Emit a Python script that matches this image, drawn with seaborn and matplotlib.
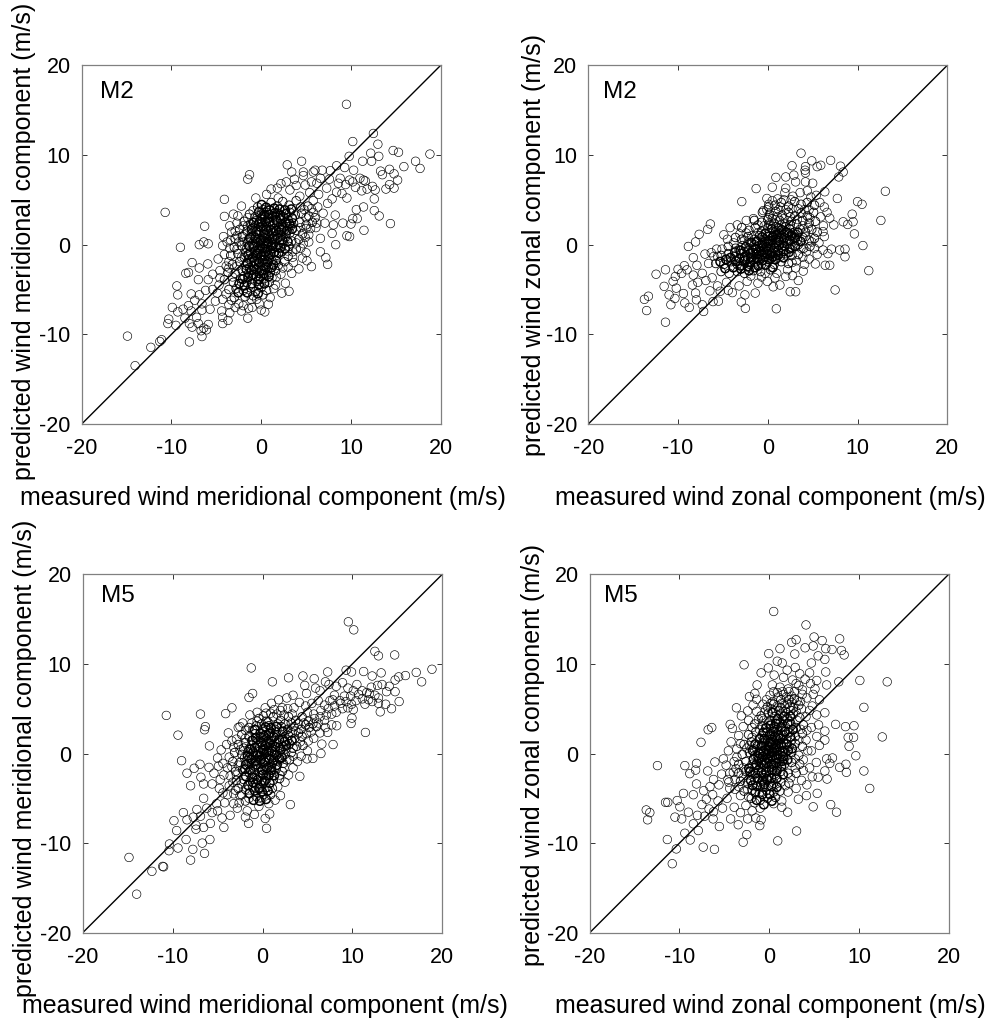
import matplotlib
matplotlib.use("Agg")
import matplotlib.pyplot as plt
import pandas as pd
import seaborn as sns

sns.set_style("white")
plt.rcParams["font.family"] = ["Liberation Sans", "DejaVu Sans"]
plt.rcParams["axes.unicode_minus"] = False

LIMITS = [-20, 20]
TICKS = [-20, -10, 0, 10, 20]
XLABELS = ["measured wind meridional component (m/s)", "measured wind zonal component (m/s)"]
YLABELS = ["predicted wind meridional component (m/s)", "predicted wind zonal component (m/s)"]
MODELS = ["M2", "M2", "M5", "M5"]

M2_MERID_OUTER = [(9.5,15.65),(12.5,12.4),(10.2,11.5),(13,11.2),(14.7,10.5),(15.3,10.3),(18.8,10.1),(17.2,9.3),(17.7,8.5),(15.9,8.7),(9.8,9.85),(12.2,10.2),(13.1,9.85),(11.3,9.3),(12.3,9.3),(2.9,8.9),(4.5,9.3),(3.4,8.1),(-1.3,7.8),(-1.5,7.3),(-10.7,3.6),(-4.1,5.05),(-4.1,3.15),(-6.3,2.05),(-6.4,.3),(-5.9,.1),(-6.9,0),(-9,-.3),(-7.7,-2),(-5.95,-2.15),(-8.4,-3.2),(-8.1,-3.1),(-6.9,-2.6),(-7,-3.9),(-9.4,-4.6),(-9.3,-5.6),(-7.8,-5.5),(-9.9,-7),(-9.3,-7.5),(-10.3,-8.3),(-10.4,-8.8),(-9.5,-9),(-14.9,-10.2),(-14.05,-13.5),(-12.3,-11.45),(-11.1,-10.6),(-11.3,-10.8),(-8,-10.85),(-6.6,-10.25),(-6.4,-9.3),(-5.9,-8.9),(-6.1,-9.5),(-1.5,-8.2),(-3.7,-8.45),(-4.3,-8.8),(.4,-7.5),(.8,-6.65),(3.1,-5.2),(5.6,-2.45),(7.4,-2.2),(7.2,-1.45),(8.3,0),(9.55,1),(9.85,.9),(11.45,1.6),(14.4,2.35),(13.15,3.2),(12.6,3.8),
(13.3,8.2),(13.5,7.8),(14.3,8.4),(14.8,7.9),(15.2,7.2),(14.3,6.7),(14.8,6.3),(13.9,6.2),(12.7,6.1),(12.6,5.1),(11.4,7.2),(11.6,7.1),(10.2,7),(9.85,7.2),(11,7.4),(10.3,8.3),(9.3,8.6),(8.4,8.8),(7.7,8.25),(6.8,8.3),(6,8.3),(5.8,8.1),(4.7,8.1),(4.7,7.7),(3.7,7.3),(2.2,6.8),(1.1,6.2),(1.8,6.3),(3.2,6.1),(4.9,6.65),(6.2,6.85),(7.3,6.3),(8.6,6.85),(8.4,5.85),(9.55,5.2),(11.4,4.2),(10.6,3.9),(10.7,2.9),(10.2,2.9),(10,2.3),(9.1,2.4),(8.25,3.3),(8.05,2.2),(7.1,2.4),(7.9,1.25),(6.6,.7),(6.6,-.8),(5.3,.3),(5,-.9),(11.8,6.2),(12.4,6.5),(11.2,6),(10.5,6.4),(9.4,6.7),(9,5.7),(7.9,5.1),(7.4,4.6),(8.8,7.4),(7.6,7.3),(6.6,7.4),(5.6,7),(6.4,5.6),(6.9,3.5),(5.8,4.9),(5.4,5.8),(4.3,5.4),(3.9,6.6),(2.8,7),(1.9,5.2),(.6,5.6),(-.6,5.2),(-2.2,4.3),(-2.6,3.2),(-3.1,3.4),(-3.5,2.1),(-3.3,1.4),(-4.2,.9),(-4.3,-.1),(-4.8,-1.6),(-4.6,-2.9),(-5.4,-3.3),(-5.9,-3.9),(-6.2,-5.1),(-6.9,-5.6),(-7.4,-6.2),(-8.1,-6.8),(-8.7,-7.2),(-7.8,-7.4),(-7.2,-8.1),(-6.6,-7.3),(-7,-8.8),(-7.7,-9.2),(-6.7,-9.6),(-5.7,-7.2),(-5.1,-6.3),(-4.4,-7.4),(-4.3,-8.1),(-3.5,-7.6),(-3.3,-6.2),(-2.5,-6.6),(-2,-6.8),(-1.1,-6.1),(-1.4,-7.1),(-.2,-6.6),(0,-7.3),(1,-5.9),(2.3,-5.4),(2.7,-4.3),(1.6,-4.5),(3.4,-3.2),(4.2,-2.7),(4.6,-1.5),(5.1,-1.8),(3.6,-2),(-6.6,-6.6),(-5.4,-5),(-4.7,-4.5),(-3.9,-5.5),(-8.5,-8.2),(-8,-8.8),
(-3.2,-3.6),(-3.6,-2.6),(-2.7,-2.4),(-2.2,-1.4),(-2.7,-.5),(-3.5,-.4),(-2.5,.3),(-3.4,.5),(-1.9,.3),(-1.9,1.1),(-2,2.1),(-2.7,2.4),(-1.5,3),(-.9,3.8),(-1.5,2.1),(2.9,-.7),(3.5,-.8),(4.4,-.4),(4.7,.1),(3.9,.2),(4.9,.8),(5.3,1.1),(4.4,1.9),(5,1.8),(5.5,1.8),(6.1,1.9),(5.8,3.6),(6.2,2.4),(5,3),(4.8,3.9),(5.6,4),(6.3,4.2),(3.5,-1.4),(2.4,-2.6),(2.2,-3.3),(3,-2.5),(1.2,-3.7),(1.7,-3.6),(1.4,-4.9),(-4.9,-5.4),(-4.3,-6.1),(-3.6,-6.7),(-2.9,-7),(-2.2,-7.4),(-1,-7),(-.5,-6.1),(-4.6,-3.7),(-3.9,-2.4),(-4.1,-1.1),(-3.6,-1.9),(-3.8,.3),(-2.9,1.5),(-2.7,1)]
M2_MERID_CORE = [(-.4,4.2),(.2,3.9),(1.1,4.7),(1.8,4.3),(2.4,4.8),(3.1,4.4),(3.9,4.9),(4.4,4.2),(5.2,4.3),(-1.3,3.4),(-.7,3.1),(0,3.3),(.6,3.6),(1.2,3.2),(1.9,3.5),(2.5,3.1),(3.2,3.6),(3.8,3.3),(4.5,3.5),(5.3,3.2),(6,3),(-1.9,2.6),(-1.2,2.3),(-.5,2.7),(.1,2.4),(.7,2.8),(1.3,2.3),(1.8,2.6),(2.4,2.2),(3,2.7),(3.6,2.4),(4.3,2.5),(5,2.2),(5.7,2.5),(-2.4,1.7),(-1.6,1.5),(-.9,1.9),(-.3,1.6),(.3,1.9),(.8,1.5),(1.4,1.8),(2,1.4),(2.6,1.7),(3.2,1.3),(3.9,1.6),(4.6,1.2),(-2.9,.7),(-2.1,.9),(-1.4,.6),(-.8,1),(-.2,.7),(.4,1.1),(.9,.6),(1.5,.9),(2.1,.5),(2.7,.8),(3.4,.4),(4.2,.6),(-3,-.3),(-2.2,-.1),(-1.6,-.4),(-1,.1),(-.4,-.3),(.2,.1),(.7,-.2),(1.3,.2),(1.9,-.3),(2.4,.1),(3.1,-.2),(3.9,-.5),(-3.4,-1.2),(-2.6,-1),(-1.9,-1.4),(-1.2,-.9),(-.6,-1.2),(0,-.8),(.5,-1.3),(1.1,-.9),(1.7,-1.2),(2.3,-.8),(3,-1.3),(-3.2,-2.2),(-2.4,-1.9),(-1.7,-2.3),(-1.1,-1.9),(-.5,-2.2),(.1,-1.8),(.6,-2.2),(1.2,-1.8),(1.9,-2.3),(2.6,-1.9),(-3.7,-3.1),(-2.9,-3.2),(-2.1,-2.9),(-1.4,-3.2),(-.8,-2.8),(-.2,-3.2),(.4,-2.8),(1,-3.1),(1.6,-2.9),(-4.1,-3.9),(-3.1,-4.2),(-2.3,-3.8),(-1.6,-4.2),(-1,-3.8),(-.4,-4.1),(.3,-3.8),(.9,-4.2),(-3.6,-5),(-2.8,-4.9),(-2,-5.1),(-1.2,-4.8),(-.6,-5.2),(0,-4.8),(.6,-5.1),(-3,-5.9),(-1.8,-5.8),(-.9,-5.7),(.2,-5.6),(.5,.4),(.1,.6),(-.3,.2),(.8,1),(1.2,1.3),(.3,1.4),(-.2,1.1),(.6,2),(1,2.1),(1.5,2.4),(2,2),(.2,2.1),(-.6,.3),(-.1,-.1),(.4,-.5),(-.7,-.7),(-.2,-1.5),(.3,-1.1),(.7,-.7),(-.4,-1.7),(-.9,-2.4),(-.3,-2.5),(.2,-2.4),(-1.1,-3.4),(-.6,-3.5),(-.1,-3.6),(.4,-3.3),(1.1,.2),(1.6,.6),(2.2,1.1),(2.8,1.2),(1.8,1.1),(2.4,1.9),(2.9,2),(3.3,2.1),(-.1,2.9),(.4,3.1),(.9,3),(1.6,3),(-.7,2.1),(-1.1,1.2),(-1.5,.2),(-1.7,-.9),(-1.4,-1.6),(-1.3,-2.6),(-1.9,-3.5),(.9,-1.6),(.8,-2.6),(.6,-3.4),(1.4,-.4),(1,-.6),(.1,3.1),(-.3,2.3)]
M2_MERID_DENSE = [(.05,4.45),(.55,4.15),(.95,3.85),(1.45,4.05),(2.05,3.95),(2.65,3.85),(3.35,3.95),(-.25,3.65),(.35,3.35),(.85,3.35),(1.55,3.55),(2.15,3.25),(2.75,3.45),(3.45,2.95),(-.85,2.45),(-.15,2.55),(.45,2.55),(.95,2.55),(1.65,2.75),(2.15,2.85),(2.75,2.45),(3.15,2.35),(-1.05,1.75),(-.55,1.45),(-.05,1.95),(.55,1.65),(1.05,1.65),(1.65,1.55),(2.25,1.65),(2.85,1.55),(3.45,1.75),(-1.25,.75),(-.65,.75),(-.05,.45),(.35,.75),(.75,.35),(1.25,.65),(1.85,.75),(2.35,.55),(2.95,.35),(-1.35,-.15),(-.85,-.25),(-.25,-.55),(.15,-.35),(.65,.15),(1.15,-.15),(1.65,-.25),(2.15,-.35),(2.65,-.45),(-1.45,-1.15),(-.95,-1.45),(-.45,-.95),(.05,-1.25),(.45,-.85),(.85,-1.25),(1.45,-.85),(1.95,-.95),(-1.55,-2.05),(-.75,-1.85),(-.25,-1.95),(.35,-1.65),(.75,-1.95),(1.35,-2.25),(1.65,-1.75),(-1.65,-2.75),(-1.05,-2.85),(-.55,-2.75),(.05,-2.85),(.55,-2.55),(1.15,-2.55),(-2.05,-3.85),(-1.45,-3.65),(-.85,-3.35),(-.25,-3.85),(.25,-3.25),(.85,-3.55),(-2.45,-4.35),(-1.85,-4.55),(-1.05,-4.35),(-.25,-4.45),(.35,-4.35),(-2.55,-5.35),(-1.55,-5.35),(-.35,-5.45)]

M2_ZONAL_OUTER = [(3.7,10.2),(4.9,9.35),(7,9.4),(2.7,8.8),(4.2,8.7),(4.15,8.3),(5.5,8.7),(5.9,8.85),(8.1,8.75),(8.4,8.1),(7.9,7.55),(4.2,8),(2.9,7.75),(2,7.55),(.9,7.5),(3.1,7),(4.2,7),(5,6.85),(-1.3,6.25),(.5,6.4),(2,6.3),(-2.9,4.8),(-.1,5.15),(6.35,5.9),(13.1,5.95),(7.75,5.15),(10,4.8),(10.5,4.5),(9.4,3.4),(12.6,2.7),(8.4,2.55),(9.5,2.55),(8.9,2.25),(9.65,1.2),(10.6,-.1),(8.6,-1.35),(8.6,-.5),(8,-.6),(11.25,-2.9),(7.5,-5.05),(6.4,-2.3),(6.9,-2.3),(5.3,-2.15),(6.7,-1),(7.1,-.5),(6.15,-.6),(6.9,2.95),(7.35,2.2),(6.3,.9),(6.15,1.45),(-6.4,2.3),(-6.7,1.7),(-7.65,1.15),(-8.05,.3),(-8.85,-.2),(-7,-1.05),(-8.3,-1.45),(-9.3,-2.35),(-10,-2.75),(-11.4,-2.8),(-12.45,-3.3),(-10.3,-3.55),(-10.55,-4.1),(-11.55,-4.65),(-10.2,-4.85),(-11,-5.6),(-13.3,-5.75),(-13.75,-6.1),(-13.5,-7.35),(-11.4,-8.65),(-10.8,-6.7),(-10.35,-6),(-9.4,-5.45),(-8.05,-5.4),(-9.25,-6.5),(-8.75,-7),(-7.95,-6.15),(-7.3,-6.7),(-7.15,-7.45),(-6.45,-5.15),(-5.5,-6.3),(-6.1,-6.35),(-8.4,-4.5),(-8.3,-3.4),(-3.95,-5.35),(-2.55,-5.6),(-2.95,-6.4),(-2.5,-7.1),(-1.4,-5.4),(.95,-7.15),(2.5,-5.25),(3.1,-5.25),(1.35,-4.5),(.6,-4.7),(3.4,-4),(2.75,-3.45),(3.95,-2.95),(2,-3.55),(-.05,-4.1),(-1.1,-4.3),(-3.2,-4.6),(-9.6,-3.2),(-9,-2.8),(-7.9,-2.3),(-7.3,-3.2),(-6.9,-4),(-7.8,-4.2),(-6.2,-3.7),(-5.6,-4.6),(-4.6,-4.2),(-4.4,-5.1),(-5.3,-5.2),(-6.6,-2.1),(-6,-1.3),(-6.3,-.9),(-5.7,-.5),(-4.9,1.1),(-4.2,1.9),(-3.4,2.2),(-2.4,2.7),(-1.6,2.9),(-.5,3.8),(.1,4.5),(1.1,5.1),(1.9,5.8),(2.8,5.4),(3.6,5.8),(4.4,6),(4.8,5.3),(5.4,5.5),(5.8,4.7),(6.3,4.2),(6.6,3.6),(5.9,3.1),(6.2,2.1),(5.7,.2),(5.2,-.4),(5.5,-1.1),(4.6,-1.6),(4.1,-2.2),(3.1,-2.6),(2.2,-2.8),(1,-3.2),(-.3,-3.2),(-1.9,-3.5),(-2.3,-4.1),(-.7,-3.6),(.8,-3.7),
(-2.2,.2),(-2.6,.5),(-1.8,1),(-1.1,1.3),(-2.4,1.3),(-3.1,1.2),(-3.8,.2),(-1.1,2.2),(-.4,2.1),(.1,2.3),(.5,2.9),(1.1,3.1),(1.8,2.9),(2.5,3.1),(3.3,2.8),(3.9,2.1),(4.5,1.9),(4.2,.9),(3.7,-.4),(4.3,-.8),(4.9,.3),(3.9,-1.4),(3.2,-1.8),(2.7,-2),(-4.5,.6),(-5.1,-.5),(-5.6,-1.3),(1.2,3.9),(2,3.9),(2.7,4),(3.4,4),(4.1,3.9),(4.7,3),(.6,3.2),(.1,3),(1.4,4.2),(2.6,5),(1.8,5),(.5,4.9),(-.1,3.9),(4.6,3.9)]
M2_ZONAL_CORE = [(.1,4.2),(.8,4.4),(1.5,4.7),(2.3,4.3),(3,4.8),(3.7,4.5),(4.4,4.7),(5.2,4.4),(-.6,3.6),(.2,3.4),(.9,3.7),(1.6,3.3),(2.3,3.6),(3,3.2),(3.7,3.5),(4.4,3.2),(5.1,3.6),(-1.5,2.7),(-.7,2.5),(0,2.8),(.7,2.4),(1.3,2.7),(1.9,2.3),(2.6,2.6),(3.2,2.3),(3.9,2.7),(4.6,2.4),(5.3,2.6),(-2.9,1.9),(-2.1,1.6),(-1.4,1.9),(-.7,1.5),(0,1.8),(.6,1.5),(1.2,1.9),(1.8,1.5),(2.4,1.8),(3,1.4),(3.6,1.7),(4.2,1.4),(4.9,1.7),(5.5,1.4),(-3.6,.8),(-2.9,.6),(-2.2,.9),(-1.5,.6),(-.9,1),(-.3,.6),(.3,1),(.9,.6),(1.5,1),(2.1,.6),(2.7,.9),(3.3,.5),(3.9,.8),(4.6,.5),(5.2,.7),(-4.4,-.2),(-3.6,-.4),(-2.8,-.1),(-2.1,-.4),(-1.5,0),(-.9,-.4),(-.3,.1),(.3,-.3),(.9,.1),(1.5,-.3),(2.1,.1),(2.7,-.3),(3.4,0),(4,-.4),(4.7,-.2),(-5.2,-1.2),(-4.4,-1),(-3.7,-1.3),(-3,-1),(-2.3,-1.3),(-1.6,-.9),(-1,-1.3),(-.4,-.9),(.2,-1.2),(.8,-.9),(1.4,-1.3),(2,-1),(2.7,-1.2),(3.4,-1.1),(-5.8,-2.1),(-4.9,-2.2),(-4.1,-1.9),(-3.4,-2.2),(-2.7,-1.9),(-2,-2.2),(-1.3,-1.9),(-.7,-2.2),(0,-1.9),(.7,-2.2),(1.5,-1.9),(2.3,-2.1),(-5.2,-3),(-4.3,-3.2),(-3.4,-3),(-2.6,-3.2),(-1.6,-2.9),(-.8,-3),(.3,-2.8),(-.1,.3),(.5,.4),(1,.3),(-.5,-.3),(.1,-.6),(.6,-.7),(1.2,.7),(.6,1),(0,.9),(1.7,.3),(2.2,.4),(-.6,.2),(-1.2,-.2),(-1.7,-.6),(-1,-.7),(-.4,-.6),(-2.2,-.7),(-2.6,-.8),(1.3,1.2),(1.8,1.1),(2.3,1.2),(.2,1.3),(.8,1.3),(2.8,1.3),(3.2,1.1),(-.3,-1.4),(-.9,-1.7),(-1.6,-1.6),(.4,-1.5),(1,-1.5),(.9,2),(1.5,2.2),(2,2),(.3,2.2),(2.5,2.2),(-3.2,-.6),(-1.1,.4),(-.2,.5),(.3,.1)]
M2_ZONAL_DENSE = [(-.25,1.25),(.45,1.75),(1.05,1.15),(1.55,1.65),(2.15,1.35),(2.65,1.05),(3.35,1.35),(-.65,.85),(.05,.15),(.55,.85),(1.25,.45),(1.85,.75),(2.45,.45),(3.05,.75),(3.65,.35),(-1.25,.35),(-.65,-.05),(.15,.45),(.75,-.35),(1.25,-.05),(1.85,-.15),(2.45,-.45),(3.05,-.15),(-1.85,.25),(-1.35,-.45),(-.75,-.75),(-.15,-.25),(.45,-.95),(1.15,-.65),(1.75,-.75),(2.35,-.85),(-2.45,-.25),(-1.95,-.95),(-1.25,-1.05),(-.65,-1.15),(-.05,-1.05),(.55,-1.35),(1.15,-1.15),(1.75,-1.45),(-3.05,-.65),(-2.55,-1.35),(-1.85,-1.45),(-1.15,-1.55),(-.55,-1.75),(.15,-1.65),(.85,-1.65),(-3.65,-.85),(-3.15,-1.55),(-2.55,-1.75),(-1.95,-1.95),(-1.05,-2.35),(-.25,-2.25),(.55,-2.55),(-4.15,-1.45),(-3.55,-1.85),(-3.05,-2.35),(-2.25,-2.45),(-1.45,-2.55),(-4.65,-1.65),(-3.85,-2.55),(-3,-2.7),(-2.1,-2.9),(-4.75,-2.65),(-5.3,-1.9)]

M5_MERID_OUTER = [(9.55,14.7),(10.15,13.8),(12.5,11.4),(12.9,10.9),(14.7,11),(18.85,9.4),(17.1,9.05),(17.7,8),(15.9,8.7),(15.15,8.55),(14.75,8.2),(13.2,9),(12.2,8.65),(11.25,9.15),(9.9,9.1),(9.3,9.3),(7.25,9.1),(4.5,8.65),(5.75,8.35),(2.9,8.45),(1.1,8),(-1.25,9.55),(4.7,7.6),(-1.1,6.7),(-1.5,6.25),(-3.4,5.1),(-4.1,4.45),(-6.9,4.4),(-10.7,4.25),(-6.35,3),(-6.45,2.65),(-9.4,2.05),(-5.9,.85),(-9,-.8),(-6.95,-1.2),(-7.6,-1.65),(-8.4,-2.2),(-5.95,-1.55),(-6.85,-2.65),(-6.55,-3.4),(-8,-3.6),(-6.55,-5),(-7.3,-6.25),(-8.8,-6.6),(-9.85,-7.5),(-9.55,-8.6),(-8.4,-7.4),(-7.4,-8.45),(-6.55,-8.25),(-5.8,-7.8),(-8.5,-9.6),(-5.85,-9.6),(-6.7,-10),(-10.35,-10.1),(-9.4,-10.55),(-10.4,-10.85),(-7.75,-10.7),(-6.45,-11.15),(-8,-11.9),(-14.85,-11.6),(-12.3,-13.15),(-11.1,-12.6),(-11,-12.65),(-14,-15.7),(-4.3,-8.25),(-1.55,-7.8),(.45,-8.35),(.3,-7.25),(.8,-6.75),(3.1,-5.7),(2,-4.7),(4.15,-2.55),(6.5,0),(7.85,1),(11.45,2.35),(13.1,4.65),(14.35,5),(15.2,5.8),(14.75,6.9),(9.85,3.35),(9.95,3.95),(8.25,3.1),(7.25,2.35),(6.6,1.05),(5.6,-.55),(4.95,-.6),
(13.3,7.7),(13.8,6.9),(14.1,7.5),(12.8,7.6),(12.1,7.4),(11.6,6.8),(11.1,7),(10.5,7.7),(10.1,7),(9.5,7.3),(8.9,7.9),(8.2,7.5),(7.4,7.7),(7,8),(6.4,7),(5.9,7.3),(4.9,6.7),(3.4,6.5),(2.7,6.2),(1.8,6),(1,5.6),(.3,5.1),(-.6,4.6),(-1.4,4.3),(-2.2,3.4),(-2.7,2.9),(-3.8,2.3),(-4,1),(-4.6,.4),(-5,-.5),(-4.9,-1.4),(-5.4,-2.2),(-5.6,-3.4),(-4.7,-2.9),(-4.4,-4.4),(-5.1,-5.6),(-4.2,-5.5),(-3.2,-5.6),(-2.8,-6.1),(-1.7,-6.4),(-1.9,-7.1),(-.9,-6.8),(-3.6,-6.9),(-4.5,-7.2),(-5.6,-6.6),(-6.9,-7),(-7.7,-7.1),(-7.4,-8),(-6.2,-6.1),(-5,-6.4),(12.9,6.2),(12.5,6.5),(11.8,6),(11.1,6.1),(10.4,5.9),(9.8,6.4),(9.1,6.4),(8.6,5.9),(8,6.5),(7.5,5.9),(6.9,5.4),(6.2,5.9),(5.5,5.6),(4.8,5.3),(4.1,5.7),(3.5,5.1),(2.8,5),(2,4.8),(12.9,5.6),(13.7,5.5),(10.1,4.9),(9.5,5.1),(8.9,5),(8.2,4.6),(7.7,4.4),(7.1,4.3),(6.4,4.1),(5.8,3.9),(7.7,3.2),(7,2.9),(6.4,2.3),(5.7,1.7),(5.1,1.4),(5,.3),(4.3,-.3),(3.9,-.9),(3.4,-1.6),(2.9,-2.4),(2.5,-3.2),(1.7,-3.7),(1.4,-5.2),(.7,-5.6),(-.4,-5.9),(-.1,-4.9),(-1.5,-5),(-2.5,-4.7),(-3.2,-4.5),(-3.7,-3.6),(-3.6,-2.5),(-3.9,-1.6),
(-2.3,-3.4),(-2.9,-2.4),(-3.4,-1.5),(-2.7,-1.3),(-3.7,-.4),(-3.2,.7),(-2.5,.4),(-2.9,1.6),(-1.9,1.7),(-1.9,2.6),(-1.1,2.6),(-1.2,3.4),(-.6,3.6),(.1,4.2),(.9,4.5),(1.6,4.4),(2.4,4.3),(3.3,4.4),(4,3.3),(4.6,3.4),(3.7,2.5),(2.6,2.6),(4.2,1.3),(3.4,-.3),(2.7,-.7),(2.4,-1.6),(1.9,-2.4),(-3.3,-3.2),(-3,-4.1),(-2.3,-4.6),(-3.9,-4.6),(-2.6,-5.5),(-4.8,-3.9),(-4.3,-2.4),(-4.4,-1.1),(-3.4,1.4),(-2.5,3),(4.9,2.2),(5.4,2.4),(5,4.6),(5.7,4.4),(6.5,4.8),(7.3,5),(8,5.3),(8.7,5.6),(9.3,5.8),(7.8,6),(9.9,5.5),(10.7,6.6),(11.4,5.5),(12.2,5.8),(11.9,6.7),(6.9,3.7),(6.2,3.4),(2.2,5.1),(1.3,4.9),(.4,4.5)]
M5_MERID_CORE = [(-.4,3.9),(.4,3.6),(1.2,4.1),(2,3.7),(2.9,4.1),(3.7,3.7),(4.4,4.1),(5.1,3.6),(-1.5,2.9),(-.7,3.1),(0,2.7),(.7,3.1),(1.4,2.7),(2.1,3),(2.8,2.7),(3.5,3),(4.3,2.7),(5.2,2.9),(-2.3,2.1),(-1.5,1.9),(-.8,2.2),(-.2,1.8),(.4,2.1),(1,1.8),(1.6,2.1),(2.2,1.7),(2.9,2),(3.6,1.7),(4.4,1.9),(-2.7,1),(-1.9,1.2),(-1.2,.9),(-.6,1.2),(0,.9),(.5,1.3),(1.1,.9),(1.7,1.2),(2.3,.8),(3,1.1),(3.8,.8),(4.5,.9),(-3.1,.1),(-2.3,-.1),(-1.6,.2),(-1,-.2),(-.4,.2),(.2,-.1),(.7,.2),(1.3,-.2),(1.9,.2),(2.5,-.1),(3.2,.1),(-3.3,-.9),(-2.5,-1),(-1.8,-.8),(-1.2,-1.1),(-.6,-.8),(0,-1.1),(.5,-.8),(1.1,-1.1),(1.7,-.8),(2.3,-1.1),(3,-.7),(-3,-2),(-2.2,-1.8),(-1.5,-2.1),(-.9,-1.8),(-.3,-2.1),(.3,-1.8),(.9,-2.1),(1.5,-1.8),(2.2,-2),(-2.9,-3),(-2.1,-2.9),(-1.4,-3.1),(-.7,-2.8),(-.1,-3.1),(.5,-2.8),(1.2,-3),(1.9,-2.8),(-2.7,-3.9),(-1.9,-4),(-1.1,-3.8),(-.4,-4),(.4,-3.8),(1.1,-3.9),(-.7,-4.8),(.1,-4.6),(.9,-4.6),(-1.9,-5.3),(.2,.5),(.7,.7),(-.3,.7),(-.1,.1),(.4,-.4),(-.4,-.4),(.9,-.3),(.1,1.4),(.7,1.5),(1.3,1.4),(-.5,1.6),(.2,2.5),(.9,2.4),(1.5,2.4),(-.2,-1.5),(.4,-1.4),(-.8,-1.4),(-.2,-2.5),(.4,-2.4),(-.9,-2.4),(1,-1.5),(-1.4,-.4),(-1.5,.5),(1.4,.4),(1.9,.7),(-.1,3.3),(.6,3.5),(1.7,3.3),(2.5,3.3),(3.2,3.4),(-.2,-3.5),(.1,-3.3),(-.8,-3.4),(-1.6,-1.5),(-2,-.5),(-2.1,.6),(2.6,.5),(3.4,.6),(2.8,1.5),(3.3,2.3),(4,2.3),(4.8,3.2),(5.6,3.3),(6,3)]
M5_MERID_DENSE = [(-.85,2.65),(-.25,2.25),(.35,2.95),(.95,2.85),(1.55,3),(2.25,2.45),(-1.15,1.45),(-.75,1.75),(.15,1.95),(.75,2.25),(1.25,1.85),(1.85,1.55),(2.45,1.35),(3.25,1.45),(-1.35,.45),(-.85,.65),(-.15,1.25),(.35,.85),(.85,1.15),(1.45,.75),(2.05,.45),(2.65,.95),(-1.65,-.25),(-1.05,.15),(-.55,-.15),(.05,.35),(.45,.15),(1.05,.25),(1.55,-.15),(2.15,-.45),(-1.85,-1.25),(-1.25,-.65),(-.75,-.85),(-.2,-.7),(.25,-.95),(.75,-.55),(1.25,-.75),(1.9,-.6),(-1.95,-1.75),(-1.35,-1.85),(-.65,-1.25),(-.05,-1.85),(.5,-1.6),(1,-1.85),(1.6,-1.3),(-1.85,-2.55),(-1.15,-2.65),(-.55,-2.95),(.05,-2.35),(.7,-2.45),(1.3,-2.45),(-1.6,-3.55),(-1.05,-3.25),(-.35,-3.85),(.25,-3.05),(.8,-3.3),(-1.45,-4.45),(-.85,-4.15),(-.05,-4.25),(.6,-4.15),(-1,-5.2),(-.3,-5.3),(.4,-5.1)]

M5_ZONAL_OUTER = [(.5,15.85),(4.1,14.35),(5,13),(7.85,12.8),(5.9,12.6),(3,12.7),(2.5,12.4),(6.3,11.7),(7,11.6),(8.05,11.5),(8.35,11),(-.05,11.15),(1.2,11.7),(-2.8,9.9),(.9,10.3),(1.45,10.1),(2.85,11.1),(4,11.8),(4.9,12),(5.45,10.9),(6.2,10.5),(4.7,10.1),(-.1,9.55),(-.9,9),(2,9.3),(.55,8.75),(6.3,9.1),(4.5,9),(5.3,8.15),(10.1,8.15),(13.15,8),(7.75,8),(6.4,7.65),(-1.35,7.65),(-1.6,6.7),(-2.2,6.35),(-1.4,6.05),(.35,7.65),(3,7.8),(10.55,5.15),(-3.65,5.1),(-2.4,4.75),(-1.8,5.4),(-3.1,4.2),(-4.35,3.25),(-4.1,2.8),(-6.4,2.9),(-6.8,2.65),(-7.6,1.25),(-4.25,1.3),(-4.55,.3),(-5.1,-.6),(-6.05,-.95),(-8.1,-1.1),(-9.4,-1.35),(-12.45,-1.35),(-8.2,-1.85),(-8.85,-2.25),(-6.85,-1.95),(-8.1,-3.4),(-9.55,-4.45),(-8.45,-4.6),(-7.3,-4.15),(-11.55,-5.45),(-11.3,-5.45),(-10.25,-5.25),(-9.95,-5.95),(-13.7,-6.3),(-13.3,-6.6),(-13.55,-7.4),(-10.5,-7.1),(-9,-6.55),(-9.75,-7.3),(-8.45,-7.85),(-9.4,-8.9),(-7.9,-8.6),(-11.35,-9.6),(-8.8,-9.65),(-10.35,-10.65),(-10.8,-12.3),(-7.35,-10.45),(-6.1,-10.7),(-5.55,-8.15),(-6.25,-7.3),(-4.3,-7.3),(-3.45,-7.95),(-2.5,-9.05),(-2.9,-9.9),(.95,-9.75),(3.05,-8.65),(-1.05,-8.05),(2.05,-6.55),(4.9,-5.95),(6.85,-5.7),(7.5,-6.55),(5.35,-4.45),(3.25,-5.1),(4.15,-4.7),(1.4,-6),(11.2,-3.9),(10.55,-1.95),(8.6,-2.1),(8.55,-1.2),(7.85,-1.55),(9.65,-.25),(7.05,-.5),(6.4,-.6),(6.75,-1.1),(6.2,-1.95),(6.45,-2.85),(5.25,-1),(5.45,-2.65),(8.9,.8),(12.6,1.85),(9.4,1.8),(8.8,1.8),(8.5,3),(9.45,3.1),(7.4,3.25),(6.2,2.5),(6.2,1.5),(6.2,4.55),(4.7,2.9),(4.7,.3),
(5.1,7.2),(4.6,7.8),(4,8.3),(3.4,8.9),(2.9,9.6),(1.6,8.5),(1.2,7.4),(2.1,7.2),(3.7,7.1),(4.9,6.6),(5.6,6),(4.2,6.2),(.1,6.5),(-.7,5.5),(.4,5.8),(1,6.3),(4.8,5.3),(5.3,4.3),(5.5,3.2),(5.3,1.9),(5.6,.9),(-4.8,-1.3),(-5.3,-2.3),(-4.6,-2.9),(-5.6,-3.5),(-6.2,-2.9),(-6.6,-3.7),(-7,-5.1),(-6.3,-4.6),(-5.7,-5.3),(-7.5,-5.7),(-6.7,-6.2),(-8,-6.9),(-7.2,-7),(-6.2,-6.5),(-5.2,-6.1),(-4.7,-5),(-3.9,-6),(-3.2,-6.6),(-2.4,-7.3),(-1.5,-7.2),(-.9,-7.4),(-1.9,-6.4),(-1,-6.1),(-1.6,-5.5),(1.4,-5.3),(.5,-5.6),(2.1,-4.3),(3,-3.9),(4.2,-3.5),(3.6,-3),(4.8,-2.6),(3.8,-1.9),(4.5,-1.6),(-3.2,-4.7),(-2.6,-5.8),(-3.8,-4),(-4.4,-3.9),(-4,-2.1),(-3.9,-.9),(-3.6,.5),(-3.4,2),(-2.9,3),(-2.3,3.7),(-1.4,4.7),(-.8,3.9),(.7,4.8),(.5,6.9),(1.6,6.6),(2.5,6.4),(3.1,5.9),(3.6,5),(4.1,4.1),(4.5,4.8),(3.7,6.6),(2.6,8.2),(3.3,7.6),
(-2.9,-1.6),(-3.7,-1.7),(-2.9,-2.7),(-3.8,-2.9),(-3.6,-.4),(-2.5,.6),(-3.2,1.1),(-2.2,.9),(-1.9,1.8),(-1.1,2.7),(-1.9,2.9),(-1.2,3.8),(-.6,3.7),(-.4,4.9),(.2,5),(.9,5.3),(1.7,5.4),(2.3,5.2),(3,4.7),(3.1,3.7),(3.5,2.7),(3.3,1.5),(4.1,1.5),(4.2,2.6),(4.3,.3),(3.8,-.7),(2.9,-.6),(2.9,-1.6),(2.4,-2.7),(1.8,-3.6),(-2.4,-4),(-2.3,-4.8),(-3.4,-3.7),(-4.4,-2.2),(-4.5,-3.2),(1.5,6.9),(2.2,6.9),(2.8,6.9),(3.5,5.8),(.9,6.8),(1.9,6.3),(1.4,5.6),(2.5,5.7),(-.3,6),(.2,5.6)]
M5_ZONAL_CORE = [(-.2,5.2),(.5,5.5),(1.3,5.1),(2,5.5),(2.7,5.1),(3.3,5.4),(-.9,4.2),(-.1,4.5),(.6,4.1),(1.3,4.4),(2,4),(2.7,4.4),(3.4,4),(-1.6,3.3),(-.8,3.1),(-.1,3.4),(.6,3),(1.2,3.4),(1.8,3),(2.4,3.3),(3,2.9),(3.8,3.2),(-2.3,2.1),(-1.5,2.4),(-.8,2),(-.2,2.4),(.4,2),(1,2.3),(1.6,2),(2.2,2.3),(2.9,1.9),(3.7,2.2),(-2.8,1),(-2,1.3),(-1.3,.9),(-.7,1.2),(-.1,.8),(.4,1.2),(1,.8),(1.6,1.2),(2.2,.8),(2.9,1.1),(3.7,.8),(-3,-.1),(-2.2,.1),(-1.6,-.2),(-1,.2),(-.4,-.2),(.1,.2),(.6,-.2),(1.2,.2),(1.8,-.2),(2.5,.1),(3.3,-.2),(-3.4,-1.2),(-2.6,-.9),(-1.9,-1.2),(-1.2,-.9),(-.6,-1.3),(0,-.9),(.5,-1.3),(1.1,-.9),(1.7,-1.2),(2.5,-1),(3.4,-1.2),(-3.4,-2.2),(-2.6,-2),(-1.9,-2.3),(-1.2,-1.9),(-.6,-2.3),(0,-1.9),(.6,-2.3),(1.3,-2),(2.1,-2.2),(3,-2.2),(-3.2,-3.1),(-2.4,-3.3),(-1.6,-3),(-.9,-3.3),(-.2,-3),(.5,-3.3),(1.3,-3.2),(2.2,-3.3),(-2.8,-4.2),(-1.9,-4.1),(-1.1,-4.4),(-.3,-4.1),(.5,-4.3),(1.2,-4.2),(-2,-5),(-1,-5.2),(-.2,-5),(.7,-4.9),(-.1,.4),(.1,-.5),(-.3,.9),(.3,1.6),(.8,1.6),(-.4,1.5),(.2,2.8),(.9,2.7),(1.5,2.6),(-.3,-1.6),(.2,-1.5),(-.5,-.7),(.4,-.7),(-.1,-2.5),(-.6,-2.7),(.1,3.7),(.8,3.6),(1.6,3.7),(2.3,3.6),(1.1,4.8),(1.8,4.7),(2.4,4.8),(-.7,-3.8),(-.1,-3.6),(.9,.3),(1.4,.7),(1.9,1.6),(2.5,1.5),(-1.3,-.3),(-1.6,-1.6),(-.9,-1.6),(.9,-1.6),(1.6,-.7),(.5,.5),(0,1.2),(.2,.7),(-.9,.6),(-1.7,.5),(1.3,6),(2.2,6),(2.8,6.1)]
M5_ZONAL_DENSE = [(.35,4.55),(.95,3.85),(1.65,4.15),(2.35,4.15),(.15,3.15),(.75,3.35),(1.35,2.95),(2.05,3.35),(2.65,2.65),(-.35,2.85),(.45,2.45),(1.05,2.05),(1.75,2.45),(2.35,1.85),(-.65,2.35),(.05,2.05),(.65,1.85),(1.25,1.65),(1.95,1.05),(-1.05,1.65),(-.55,1.65),(.15,1.35),(.75,1.05),(1.35,.95),(2.55,.55),(-1.55,1.05),(-.85,.85),(-.35,.45),(.3,.95),(.8,.55),(1.5,.25),(2.1,.35),(-1.85,.35),(-1.15,.05),(-.65,.25),(-.15,-.05),(.4,.15),(.95,-.15),(1.55,-.35),(-1.75,-.65),(-1.15,-.55),(-.7,-.35),(-.2,-.55),(.35,-.35),(.85,-.55),(1.45,-.85),(2.05,-.7),(-2.25,-1.65),(-1.45,-1.25),(-.85,-1.05),(-.35,-1.05),(.25,-1.15),(.75,-1.05),(1.35,-1.45),(-2.15,-2),(-1.55,-2.25),(-.85,-2.15),(-.35,-2.05),(.3,-1.85),(.85,-1.95),(1.55,-2.35),(-2.05,-3),(-1.3,-2.75),(-.75,-3.05),(-.25,-2.85),(.25,-2.75),(.85,-2.75),(-1.85,-3.55),(-1.35,-3.65),(-.55,-3.45),(.25,-3.65),(.85,-3.75),(-1.55,-4.35),(-.75,-4.55),(.05,-4.55),(-1.4,-5.2),(-.6,-5.7),(.3,-5.3)]

OUTER = [M2_MERID_OUTER, M2_ZONAL_OUTER, M5_MERID_OUTER, M5_ZONAL_OUTER]
CORE = [M2_MERID_CORE, M2_ZONAL_CORE, M5_MERID_CORE, M5_ZONAL_CORE]
DENSE = [M2_MERID_DENSE, M2_ZONAL_DENSE, M5_MERID_DENSE, M5_ZONAL_DENSE]
BOXES = [(81.7, 65.3, 440.7, 424), (588.3, 65.3, 947.3, 424),
         (82.7, 574.3, 442.3, 932.7), (589.7, 574.3, 948.7, 932.7)]
XLABEL_AT = [(263, 498), (770, 498), (264.5, 1006), (770.5, 1006)]
YLABEL_AT = [(24, 241), (534, 245), (25, 758), (533, 755)]
TAG_AT = [(100, 92), (603, 92), (101, 596), (604, 596)]

W, H = 987, 1023
fig = plt.figure(figsize=(W / 100, H / 100), dpi=100, facecolor="white")

for i, box in enumerate(BOXES):
    l, t, r, b = box
    ax = fig.add_axes([l / W, 1 - b / H, (r - l) / W, (b - t) / H])
    for pts, lw in ((OUTER[i], 0.45), (CORE[i], 0.6), (DENSE[i], 1.1)):
        df = pd.DataFrame(pts, columns=["measured", "predicted"])
        sns.scatterplot(data=df, x="measured", y="predicted", ax=ax, s=38,
                        facecolor="none", edgecolor="black", linewidth=lw, legend=False)
    sns.lineplot(x=LIMITS, y=LIMITS, ax=ax, color="black", linewidth=1.0, errorbar=None)
    ax.set_xlim(LIMITS)
    ax.set_ylim(LIMITS)
    ax.set_xticks(TICKS)
    ax.set_yticks(TICKS)
    ax.tick_params(axis="x", direction="in", length=3.6, width=0.7, color="#333333", top=True,
                   bottom=True, labelsize=15.5, pad=10, labelcolor="black")
    ax.tick_params(axis="y", direction="in", length=3.6, width=0.7, color="#333333", left=True,
                   right=True, labelsize=15.5, pad=8, labelcolor="black")
    for s in ax.spines.values():
        s.set_color("#808080")
        s.set_linewidth(0.9)
    col = i % 2
    ax.set_xlabel(XLABELS[col], fontsize=18, color="black", va="center", ha="center")
    ax.xaxis.set_label_coords(XLABEL_AT[i][0] / W, 1 - XLABEL_AT[i][1] / H, transform=fig.transFigure)
    ax.set_ylabel(YLABELS[col], fontsize=18, color="black", va="center", ha="center")
    ax.yaxis.set_label_coords(YLABEL_AT[i][0] / W, 1 - YLABEL_AT[i][1] / H, transform=fig.transFigure)
    fig.text(TAG_AT[i][0] / W, 1 - TAG_AT[i][1] / H, MODELS[i], fontsize=17.5, color="black",
             va="center", ha="left")

fig.savefig("out.png", dpi=100)
